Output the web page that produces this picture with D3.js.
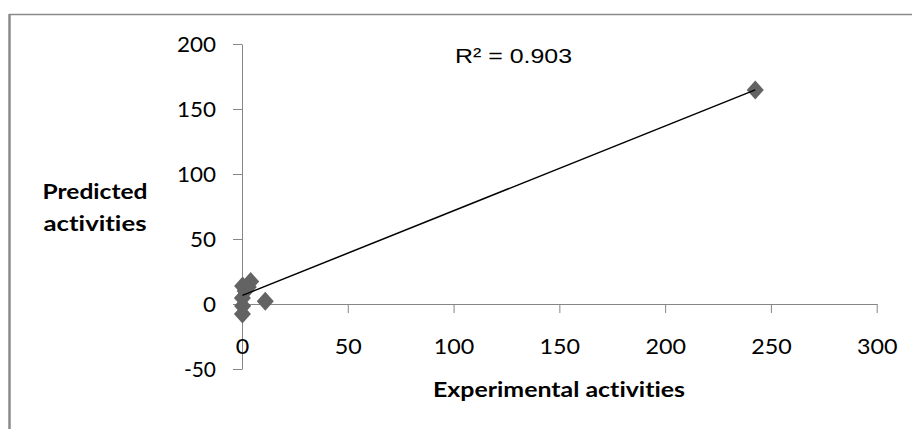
<!DOCTYPE html>
<html>
<head>
<meta charset="utf-8">
<script src="https://cdn.jsdelivr.net/npm/d3@7"></script>
<style>
  html, body { margin: 0; padding: 0; background: #fff; }
  svg { display: block; }
  text { font-variant-ligatures: none; font-feature-settings: "liga" 0, "clig" 0; }
</style>
</head>
<body>
<svg id="chart" width="912" height="429"></svg>
<script>
// ---- data ----
const experimental = [0.2, 0.3, 0.2, 0.3, 1.5, 3.0, 4.1, 11.0, 242.6];
const predicted    = [4.6, -1.5, -7.7, 13.8, 10.0, 13.0, 17.3, 2.1, 164.6];
const xTicks = [0, 50, 100, 150, 200, 250, 300];
const yTicks = [-50, 0, 50, 100, 150, 200];
const trendSlope = [0.652];
const trendIntercept = [6.5];
const rSquaredLabel = "R² = 0.903";
const xTitle = "Experimental activities";
const yTitleLines = ["Predicted", "activities"];

const svg = d3.select("#chart");
svg.append("rect").attr("width", 912).attr("height", 429).attr("fill", "#fff");

// outer frame (only top and left visible)
svg.append("line").attr("x1", 9).attr("x2", 912).attr("y1", 14.5).attr("y2", 14.5)
  .attr("stroke", "#8a8a8a").attr("stroke-width", 1.5);
svg.append("line").attr("x1", 9.5).attr("x2", 9.5).attr("y1", 14).attr("y2", 429)
  .attr("stroke", "#8a8a8a").attr("stroke-width", 2.5);

const x = d3.scaleLinear().domain([0, 300]).range([242, 876.7]);
const y = d3.scaleLinear().domain([-50, 200]).range([369, 44]);

const axisColor = "#868686";
const tickFont = "Lato, 'Open Sans', sans-serif";
const fmt = d => String(d);

// Y axis
const gy = svg.append("g").attr("transform", `translate(${x(0)},0)`)
  .call(d3.axisLeft(y).tickValues(yTicks).tickFormat(fmt).tickSize(9).tickSizeOuter(0).tickPadding(17));
gy.select(".domain").attr("stroke", axisColor);
gy.selectAll(".tick line").attr("stroke", axisColor);
gy.selectAll(".tick text")
  .attr("font-family", tickFont).attr("font-size", 20.5).attr("fill", "#000")
  .attr("dy", "0.36em")
  .attr("textLength", d => String(d).replace("-", "").length * 13 + (d < 0 ? 6 : 0))
  .attr("lengthAdjust", "spacingAndGlyphs");

// X axis (at y = 0)
const gx = svg.append("g").attr("transform", `translate(0,${y(0)})`)
  .call(d3.axisBottom(x).tickValues(xTicks).tickFormat(fmt).tickSize(9).tickSizeOuter(0));
gx.select(".domain").attr("stroke", axisColor);
gx.selectAll(".tick line").attr("stroke", axisColor);
gx.selectAll(".tick text")
  .attr("font-family", tickFont).attr("font-size", 20.5).attr("fill", "#000")
  .attr("y", 50).attr("dy", 0)
  .attr("textLength", d => String(d).length * 13.5)
  .attr("lengthAdjust", "spacingAndGlyphs");

// data points (diamonds)
const pts = experimental.map((e, i) => ({ e, p: predicted[i] }));
const diamond = "M0,-9.5 L8.5,0 L0,9.5 L-8.5,0 Z";
svg.append("g").selectAll("path").data(pts).join("path")
  .attr("d", diamond)
  .attr("transform", d => `translate(${x(d.e)},${y(d.p)})`)
  .attr("fill", "#636363");

// linear trendline from min to max experimental value
const xMin = d3.min(experimental), xMax = d3.max(experimental);
svg.append("line")
  .attr("x1", x(xMin)).attr("y1", y(trendIntercept[0] + trendSlope[0] * xMin))
  .attr("x2", x(xMax)).attr("y2", y(trendIntercept[0] + trendSlope[0] * xMax))
  .attr("stroke", "#000").attr("stroke-width", 1.5);

// R² label
svg.append("text").attr("x", 455).attr("y", 63)
  .attr("font-family", "'Liberation Sans', Arial, sans-serif").attr("font-size", 20)
  .attr("fill", "#000")
  .attr("textLength", 117).attr("lengthAdjust", "spacingAndGlyphs")
  .text(rSquaredLabel);

// axis titles
svg.append("text").attr("x", 559).attr("y", 397).attr("text-anchor", "middle")
  .attr("font-family", tickFont).attr("font-size", 21).attr("font-weight", "bold")
  .attr("fill", "#000")
  .attr("textLength", 252).attr("lengthAdjust", "spacingAndGlyphs")
  .text(xTitle);

const yWidths = [105, 103];
svg.append("g").selectAll("text").data(yTitleLines).join("text")
  .attr("x", 95).attr("y", (d, i) => 199 + i * 31.5).attr("text-anchor", "middle")
  .attr("font-family", tickFont).attr("font-size", 21).attr("font-weight", "bold")
  .attr("fill", "#000")
  .attr("textLength", (d, i) => yWidths[i]).attr("lengthAdjust", "spacingAndGlyphs")
  .text(d => d);
</script>
</body>
</html>
